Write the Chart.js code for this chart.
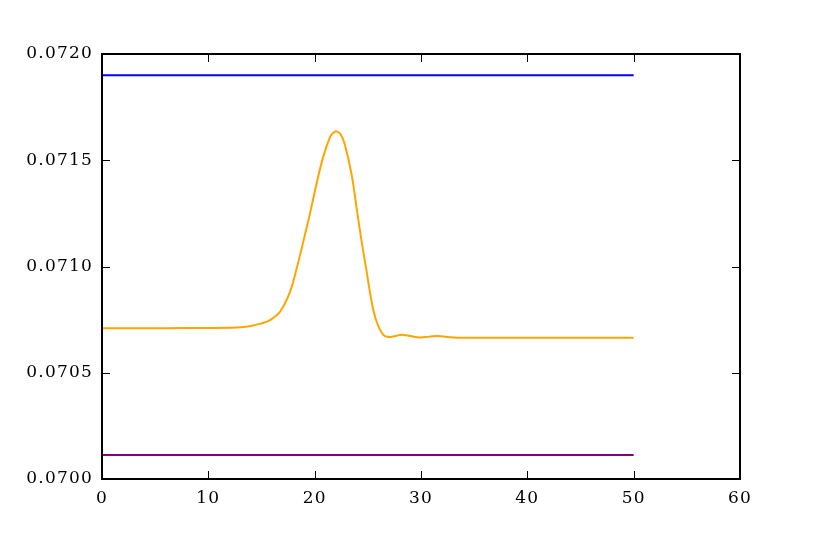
<!DOCTYPE html>
<html>
<head>
<meta charset="utf-8">
<script src="https://cdn.jsdelivr.net/npm/chart.js@4.4.1/dist/chart.umd.min.js"></script>
<style>
  body { margin: 0; background: #fff; }
  #wrap { width: 822px; height: 548px; }
</style>
</head>
<body>
<div id="wrap"><canvas id="myChart"></canvas></div>
<script>
// values
const orangeX = [0, 6, 10, 12, 13, 14, 14.9, 15.8, 16.74, 17.68, 18.31, 18.93, 19.56, 20.19, 20.81, 21.44, 21.75, 22.07,
  22.45, 22.85, 23.48, 23.95, 24.42, 24.89, 25.36, 25.83, 26.46, 26.95, 27.6, 28.2, 29.0, 29.9, 30.8, 31.6, 32.5, 33.4, 40, 50];
const orangeY = [0.07071, 0.07071, 0.070711, 0.070712, 0.070714, 0.07072, 0.070731, 0.070748, 0.070787, 0.070881,
  0.070992, 0.071117, 0.07125, 0.071392, 0.071517, 0.071609, 0.071629, 0.071636, 0.071621, 0.071572, 0.071431,
  0.071274, 0.071117, 0.070976, 0.070834, 0.07074, 0.070678, 0.070668, 0.070673, 0.070679, 0.070673, 0.070666,
  0.07067, 0.070673, 0.070668, 0.070665, 0.070665, 0.070665];
const blueX = [0, 50];
const blueY = [0.0719, 0.0719];
const purpleX = [0, 50];
const purpleY = [0.070113, 0.070113];
const xTicks = [0, 10, 20, 30, 40, 50, 60];
const yTicks = [0.0700, 0.0705, 0.0710, 0.0715, 0.0720];

const toPoints = (xs, ys) => xs.map((x, i) => ({ x: x, y: ys[i] }));

const tickFont = { family: 'DejaVu Serif', size: 17 };

// wider glyph spacing, like the reference's tick labels
const spacing = {
  id: 'spacing',
  beforeLayout(chart) { chart.ctx.letterSpacing = '1.2px'; },
  beforeDraw(chart) { chart.ctx.letterSpacing = '1.2px'; }
};

// matplotlib style: box frame and ticks pointing inward on all four sides
const frameTicks = {
  id: 'frameTicks',
  afterDraw(chart) {
    const { ctx, chartArea: a } = chart;
    const xs = chart.scales.x, ys = chart.scales.y;
    ctx.save();
    ctx.strokeStyle = '#000';
    ctx.lineWidth = 1;
    ctx.beginPath();
    xTicks.slice(1, -1).forEach(v => {
      const px = Math.round(xs.getPixelForValue(v)) + 0.5;
      ctx.moveTo(px, a.bottom); ctx.lineTo(px, a.bottom - 8);
      ctx.moveTo(px, a.top); ctx.lineTo(px, a.top + 8);
    });
    yTicks.slice(1, -1).forEach(v => {
      const py = Math.round(ys.getPixelForValue(v)) + 0.5;
      ctx.moveTo(a.left, py); ctx.lineTo(a.left + 8, py);
      ctx.moveTo(a.right, py); ctx.lineTo(a.right - 8, py);
    });
    ctx.stroke();
    ctx.lineWidth = 2;
    ctx.strokeRect(a.left, a.top, a.right - a.left, a.bottom - a.top);
    ctx.restore();
  }
};

const ctx = document.getElementById('myChart').getContext('2d');
const myChart = new Chart(ctx, {
  type: 'line',
  data: {
    datasets: [
      { data: toPoints(blueX, blueY), borderColor: '#0000ff', borderWidth: 2, pointRadius: 0 },
      { data: toPoints(orangeX, orangeY), borderColor: '#ffa500', borderWidth: 2, pointRadius: 0, tension: 0.4 },
      { data: toPoints(purpleX, purpleY), borderColor: '#800080', borderWidth: 2, pointRadius: 0 },
    ]
  },
  options: {
    responsive: true,
    maintainAspectRatio: false,
    animation: false,
    layout: { padding: { left: 0, top: 54, right: 82, bottom: 0 } },
    plugins: { legend: { display: false }, tooltip: { enabled: false } },
    scales: {
      x: {
        type: 'linear', min: 0, max: 60,
        afterBuildTicks: s => { s.ticks = xTicks.map(v => ({ value: v })); },
        afterFit: s => { s.height = 69; },
        grid: { display: false, drawTicks: false },
        border: { display: false },
        ticks: { font: tickFont, color: '#000', padding: 9, maxRotation: 0 }
      },
      y: {
        type: 'linear', min: 0.0700, max: 0.0720,
        afterBuildTicks: s => { s.ticks = yTicks.map(v => ({ value: v })); },
        afterFit: s => { s.width = 102; },
        grid: { display: false, drawTicks: false },
        border: { display: false },
        ticks: { font: tickFont, color: '#000', padding: 9, callback: v => v.toFixed(4) }
      }
    }
  },
  plugins: [spacing, frameTicks]
});
</script>
</body>
</html>
